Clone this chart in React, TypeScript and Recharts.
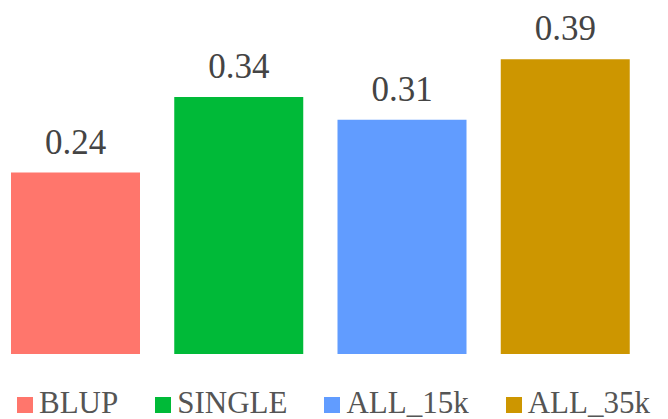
import { BarChart, Bar, Cell, XAxis, YAxis, LabelList } from "recharts";

const categories = ["BLUP", "SINGLE", "ALL_15k", "ALL_35k"];
const values = [0.24, 0.34, 0.31, 0.39];
const colors = ["#FF766C", "#00BA38", "#619CFF", "#CD9600"];

const data = categories.map((name, i) => ({ name, value: values[i] }));

const fontName = "Liberation Serif";

export default function App() {
  return (
    <div style={{ position: "absolute", left: 0, top: 0, width: 668, height: 419, overflow: "hidden", background: "#fff" }}>
      <div style={{ position: "absolute", left: -6, top: 0 }}>
        <BarChart
          width={653}
          height={419}
          data={data}
          margin={{ top: 51.6, right: 0, bottom: 65, left: 0 }}
        >
          <XAxis dataKey="name" hide />
          <YAxis domain={[0, 0.4]} hide />
          <Bar dataKey="value" barSize={129} isAnimationActive={false}>
            {data.map((d, i) => (
              <Cell key={d.name} fill={colors[i]} />
            ))}
            <LabelList
              dataKey="value"
              position="top"
              offset={19}
              formatter={(v: number) => v.toFixed(2)}
              fontFamily={fontName}
              fontSize={35}
              fill="#444444"
            />
          </Bar>
        </BarChart>
      </div>
      <div
        style={{
          position: "absolute",
          left: 17,
          top: 387,
          display: "flex",
          alignItems: "baseline",
          fontFamily: fontName,
          fontSize: 31,
          lineHeight: 1,
          color: "#555555",
          whiteSpace: "nowrap",
        }}
      >
        {categories.map((c, i) => (
          <div key={c} style={{ display: "flex", alignItems: "baseline", marginRight: 37 }}>
            <span style={{ display: "inline-block", width: 16, height: 16, background: colors[i], marginRight: 6 }} />
            <span>{c}</span>
          </div>
        ))}
      </div>
    </div>
  );
}
